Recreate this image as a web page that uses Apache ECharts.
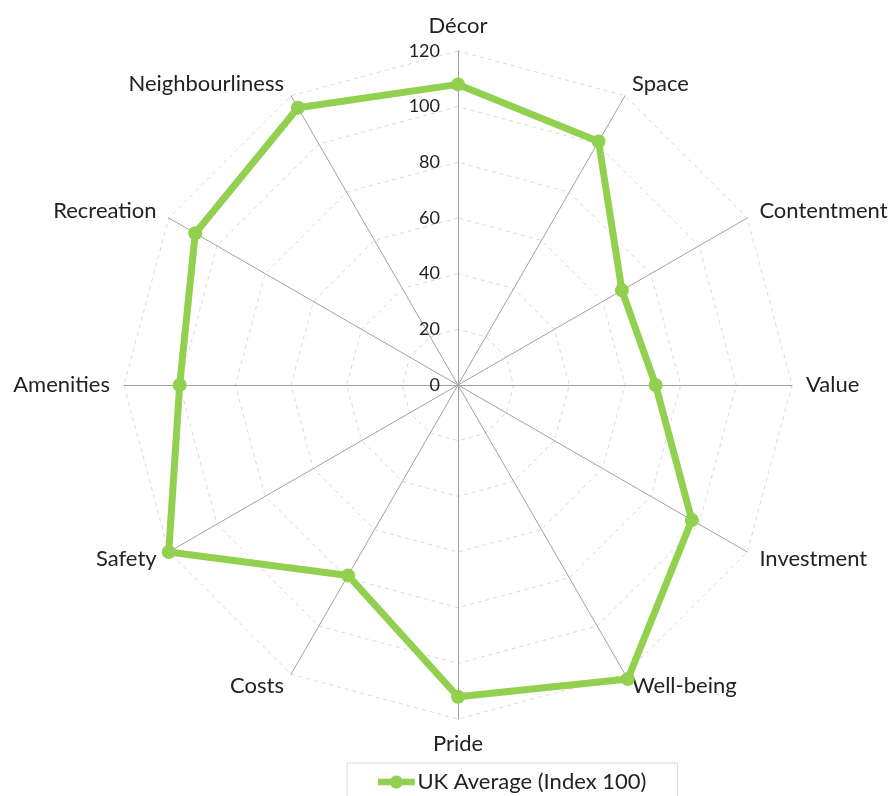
<!DOCTYPE html>
<html>
<head>
<meta charset="utf-8">
<script src="https://cdn.jsdelivr.net/npm/echarts@6/dist/echarts.min.js"></script>
<style>
  html, body { margin: 0; padding: 0; background: #fff; }
  #chart { width: 892px; height: 796px; }
</style>
</head>
<body>
<div id="chart"></div>
<script>
// categories clockwise from the top
const categories = ["Décor", "Space", "Contentment", "Value", "Investment", "Well-being",
  "Pride", "Costs", "Safety", "Amenities", "Recreation", "Neighbourliness"];
const ukAverage = [108, 101, 68, 71, 97, 122, 112, 79, 120, 100, 109, 115];
const tickMax = 120;
const seriesName = "UK Average (Index 100)";

// echarts lays indicators out counter-clockwise, so flip everything after the first
const order = [0].concat(categories.slice(1).map((_, i) => categories.length - 1 - i));

const indicator = order.map((idx, i) => {
  const item = { name: categories[idx], min: 0, max: tickMax };
  // only the vertical axis carries tick labels
  if (i === 0) item.axisLabel = { show: true };
  return item;
});

// line with a dot in the middle, like the excel legend marker
const legendIcon = "path://M0,3.5H13.9A7,7 0 0 1 26.1,3.5H40V10.5H26.1A7,7 0 0 1 13.9,10.5H0Z";

const chart = echarts.init(document.getElementById("chart"));
chart.setOption({
  animation: false,
  textStyle: { fontFamily: "Lato" },
  legend: {
    top: 763,
    left: 347,
    padding: [8, 31, 20, 31],
    borderColor: "#d9d9d9",
    borderWidth: 1,
    icon: legendIcon,
    itemWidth: 40,
    itemHeight: 13,
    itemGap: 0,
    textStyle: { fontSize: 22, color: "#222", fontFamily: "Lato", padding: [0, 0, 0, -4] },
    data: [seriesName]
  },
  radar: {
    center: [458, 385],
    radius: 334,
    startAngle: 90,
    shape: "polygon",
    splitNumber: 6,
    nameGap: 14,
    axisName: { color: "#222", fontSize: 22, fontFamily: "Lato" },
    axisLine: { lineStyle: { color: "#a0a0a0", width: 1 } },
    splitLine: { lineStyle: { color: "#d9d9d9", type: [4, 4], width: 1 } },
    splitArea: { show: false },
    axisTick: { show: false },
    axisLabel: { show: false, color: "#222", fontSize: 18, margin: 18, fontFamily: "Lato" },
    indicator: indicator
  },
  series: [{
    type: "radar",
    name: seriesName,
    symbol: "circle",
    symbolSize: 14,
    lineStyle: { color: "#92d050", width: 7 },
    itemStyle: { color: "#92d050" },
    data: [{ name: seriesName, value: order.map(idx => ukAverage[idx]) }]
  }]
});
</script>
</body>
</html>
